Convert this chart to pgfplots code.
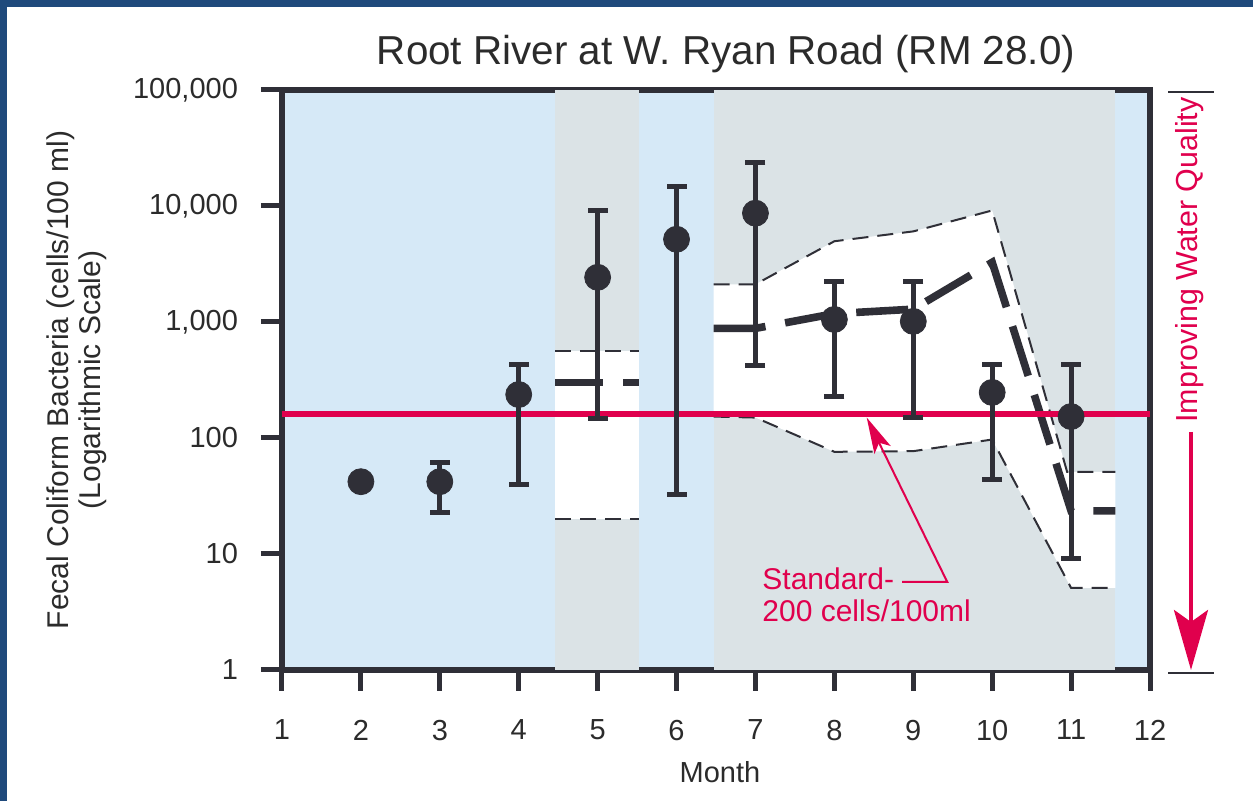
\documentclass[border=0pt]{standalone}
\usepackage{pgfplots}
\pgfplotsset{compat=1.18}
\usepackage{fontspec}
\setmainfont{Liberation Sans}
\usetikzlibrary{arrows.meta}
\definecolor{bgblue}{HTML}{D6E9F7}
\definecolor{bggrey}{HTML}{DBE3E6}
\definecolor{dk}{HTML}{2F2F37}
\definecolor{rd}{HTML}{E0004D}
\definecolor{frame}{HTML}{1F4A7C}
\definecolor{txt}{HTML}{2B2B2B}
\begin{document}
\begin{tikzpicture}
\path (-141pt,-65.5pt) rectangle (485.5pt,335pt);
\fill[frame] (-141pt,-65.5pt) rectangle (-137.5pt,335pt);
\fill[frame] (-141pt,331.5pt) rectangle (485.5pt,335pt);
\begin{axis}[
  at={(0pt,0pt)}, anchor=south west,
  width=434pt, height=290pt, scale only axis,
  xmin=1, xmax=12, ymin=1, ymax=100000, ymode=log,
  axis background/.style={fill=bgblue},
  axis line style={line width=3pt, dk},
  tick align=outside, xtick pos=bottom, ytick pos=left,
  major tick length=10.5pt,
  tick style={line width=2.5pt, dk},
  xtick={1,...,12}, ytick={1,10,100,1000,10000,100000},
  yticklabels={1,10,100,{1,000},{10,000},{100,000}},
  yminorticks=false,
  ticklabel style={font=\fontsize{14.5}{17}\selectfont, text=txt},
  xticklabel style={yshift=-11pt},
  yticklabel style={xshift=-8pt},
  /pgf/number format/assume math mode=true,
]
% grey bands
\addplot[fill=bggrey, draw=none] coordinates {(4.46,1) (4.46,100000) (5.52,100000) (5.52,1)} -- cycle;
\addplot[fill=bggrey, draw=none] coordinates {(6.47,1) (6.47,100000) (11.56,100000) (11.56,1)} -- cycle;
% white range areas
\addplot[fill=white, draw=none] coordinates {(4.46,20) (4.46,557) (5.52,557) (5.52,20)} -- cycle;
\addplot[fill=white, draw=none] coordinates {(6.47,2112) (7,2112) (8,4966) (9,6040) (10,9150) (10.95,51) (11.56,51) (11.56,5.1) (11,5.1) (10,97) (9,77) (8,76) (7,150) (6.47,153)} -- cycle;
% dashed range lines
\addplot[dk, line width=1pt, dash pattern=on 8pt off 4.5pt] coordinates {(4.46,557) (5.52,557)};
\addplot[dk, line width=1pt, dash pattern=on 8pt off 4.5pt] coordinates {(4.46,20) (5.52,20)};
\addplot[dk, line width=1pt, dash pattern=on 8pt off 4.5pt] coordinates {(6.47,2112) (7,2112) (8,4966) (9,6040) (10,9150) (10.95,51) (11.56,51)};
\addplot[dk, line width=1pt, dash pattern=on 8pt off 4.5pt] coordinates {(6.47,153) (7,150) (8,76) (9,77) (10,97) (11,5.1) (11.56,5.1)};
% medians
\addplot[dk, line width=3.5pt, dash pattern=on 24pt off 10pt] coordinates {(4.46,301) (5.52,301)};
\addplot[dk, line width=3.8pt, dash pattern=on 26pt off 10pt] coordinates {(6.47,881) (7,881) (8,1180) (9,1290) (10,3270) (11,23.5) (11.56,23.5)};
% standard
\addplot[rd, line width=3pt] coordinates {(1,162) (12,162)};
% error bars
\addplot[dk, line width=2.5pt, mark=-, mark size=5pt, mark options={line width=2.5pt}] coordinates {(3,23) (3,61)};
\addplot[dk, line width=2.5pt, mark=-, mark size=5pt, mark options={line width=2.5pt}] coordinates {(4,40) (4,430)};
\addplot[dk, line width=2.5pt, mark=-, mark size=5pt, mark options={line width=2.5pt}] coordinates {(5,147) (5,9200)};
\addplot[dk, line width=2.5pt, mark=-, mark size=5pt, mark options={line width=2.5pt}] coordinates {(6,32.5) (6,14830)};
\addplot[dk, line width=2.5pt, mark=-, mark size=5pt, mark options={line width=2.5pt}] coordinates {(7,422) (7,23900)};
\addplot[dk, line width=2.5pt, mark=-, mark size=5pt, mark options={line width=2.5pt}] coordinates {(8,228) (8,2240)};
\addplot[dk, line width=2.5pt, mark=-, mark size=5pt, mark options={line width=2.5pt}] coordinates {(9,150) (9,2240)};
\addplot[dk, line width=2.5pt, mark=-, mark size=5pt, mark options={line width=2.5pt}] coordinates {(10,44) (10,430)};
\addplot[dk, line width=2.5pt, mark=-, mark size=5pt, mark options={line width=2.5pt}] coordinates {(11,9.1) (11,430)};
% means
\addplot[only marks, mark=*, mark size=6.5pt, dk, mark options={draw=dk, fill=dk}] coordinates {(2,42) (3,42) (4,237) (5,2427) (6,5165) (7,8670) (8,1052) (9,1012) (10,247) (11,153)};
% annotation
\draw[rd, line width=1pt, -{Stealth[length=18pt, width=9pt, inset=4pt]}] (axis cs:8.86,5.75) -- (axis cs:9.43,5.75) -- (axis cs:8.41,150);
\end{axis}
\node[anchor=base west, text=rd, font=\fontsize{15}{18}\selectfont, inner sep=0pt] at (240pt,40pt) {Standard-};
\node[anchor=base west, text=rd, font=\fontsize{15}{18}\selectfont, inner sep=0pt] at (240pt,24pt) {200 cells/100ml};
% title and labels
\node[text=txt, font=\fontsize{20.2}{24}\selectfont] at (222pt,308pt) {Root River at W. Ryan Road (RM 28.0)};
\node[text=txt, font=\fontsize{14.5}{17}\selectfont] at (219pt,-51pt) {Month};
\node[text=txt, font=\fontsize{15}{16}\selectfont, rotate=90, align=center] at (-102.5pt,145pt) {Fecal Coliform Bacteria (cells/100 ml)\\(Logarithmic Scale)};
% right side
\draw[dk, line width=1pt] (443pt,289pt) -- (466pt,289pt);
\draw[dk, line width=1pt] (443pt,-1.5pt) -- (466pt,-1.5pt);
\node[text=rd, font=\fontsize{15.2}{18}\selectfont, rotate=90] at (454pt,205pt) {Improving Water Quality};
\draw[rd, line width=2pt, -{Stealth[length=30pt, width=17pt, inset=6pt]}] (454.5pt,119pt) -- (454.5pt,0pt);
\end{tikzpicture}
\end{document}
